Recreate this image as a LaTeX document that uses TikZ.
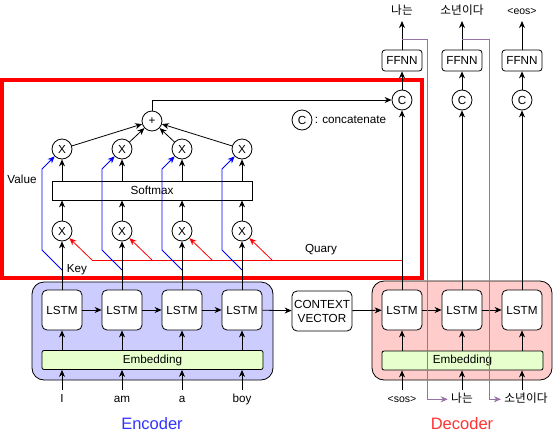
\documentclass[tikz,border=0pt]{standalone}
\usepackage{fontspec}
\setmainfont{Liberation Sans}
\newfontfamily\krfont{Noto Sans CJK KR}
\usetikzlibrary{calc,positioning,arrows.meta}
\definecolor{encfill}{HTML}{CCCCFF}
\definecolor{decfill}{HTML}{FFCCCC}
\definecolor{embfill}{HTML}{E6FFCC}
\definecolor{encblue}{HTML}{3333FF}
\definecolor{decred}{HTML}{FF3333}
\definecolor{purp}{HTML}{9673A6}

\begin{document}
\begin{tikzpicture}[x=1pt,y=-1pt,line width=0.8pt,
  font=\fontsize{11.7}{13}\selectfont,
  >={Stealth[length=7pt,width=6pt]},
  cell/.style={draw,fill=white,rounded corners=5pt,minimum width=40pt,minimum height=40pt,inner sep=0pt},
  embed/.style={draw,fill=embfill,rounded corners=2pt,minimum height=19pt,inner sep=0pt},
  op/.style={draw,fill=white,circle,minimum size=20pt,inner sep=0pt},
  ffnn/.style={draw,fill=white,rounded corners=3pt,minimum width=40pt,minimum height=21pt,inner sep=0pt},
  word/.style={anchor=base,text height=9pt,text depth=2.5pt,inner sep=1pt,outer sep=2.5pt},
  outw/.style={anchor=base,text height=9pt,text depth=1.5pt,inner sep=1pt,outer sep=4pt},
  small/.style={font=\fontsize{10.5}{11}\selectfont},
  kr/.style={font=\fontsize{11.7}{13}\krfont}]
  \useasboundingbox (0,0) rectangle (553,442);
  % attention frame
  \draw[red,line width=4pt] (2,80) rectangle (422,278);

  % encoder
  \draw[fill=encfill,rounded corners=12pt] (32,282) rectangle (273,380);
  \node[embed,minimum width=221pt] (eemb) at (152.5,360) {Embedding};
  \foreach \i/\x/\w in {1/62/I,2/122/am,3/182/a,4/242/boy}{
    \node[cell] (e\i) at (\x,310) {LSTM};
    \node[word] (w\i) at (\x,402.5) {\w};
    \draw[->] (w\i) -- (w\i |- eemb.south);
    \draw[->] (e\i |- eemb.north) -- (e\i.south);
  }
  \node[encblue,font=\fontsize{16.5}{18}\selectfont] (enc) at (152,424) {Encoder};
  \node[cell,minimum width=60pt,align=center,font=\fontsize{11.7}{14}\selectfont] (cv) at (322,311) {CONTEXT\\VECTOR};

  % decoder
  \draw[fill=decfill,rounded corners=12pt] (372,281) rectangle (552,380);
  \node[embed,minimum width=161pt] (demb) at (462.5,360.5) {Embedding};
  \node[word,small] (di1) at (402,402.5) {<sos>};
  \node[word,kr] (di2) at (462,402.5) {나는};
  \node[word,kr] (di3) at (526,402.5) {소년이다};
  \node[outw,kr] (o1) at (402,14.5) {나는};
  \node[outw,kr] (o2) at (462,14.5) {소년이다};
  \node[outw,small] (o3) at (522,14.5) {<eos>};
  \foreach \i/\x in {1/402,2/462,3/522}{
    \node[cell] (d\i) at (\x,310) {LSTM};
    \node[op] (c\i) at (\x,100) {C};
    \node[ffnn] (f\i) at (\x,60.5) {FFNN};
    \draw[->] (d\i |- demb.north) -- (d\i.south);
    \draw[->] (d\i) -- (c\i);
    \draw[->] (c\i) -- (f\i);
    \draw[->] (f\i) -- (o\i);
  }
  \draw[->] (di1) -- (di1 |- demb.south);
  \draw[->] (di2) -- (di2 |- demb.south);
  \draw[->] (d3 |- di3.north) -- (d3 |- demb.south);
  \node[decred,font=\fontsize{16.5}{18}\selectfont] (dec) at (462,424) {Decoder};

  \draw[->] (e1) -- (e2);
  \draw[->] (e2) -- (e3);
  \draw[->] (e3) -- (e4);
  \draw[->] (e4) -- (cv);
  \draw[->] (cv) -- (d1);
  \draw[->] (d1) -- (d2);
  \draw[->] (d2) -- (d3);

  % attention
  \node[draw,fill=white,minimum width=200pt,minimum height=19pt,inner sep=0pt] (sm) at (152,190.5) {Softmax};
  \node[op] (plus) at (152,121) {+};
  \draw[red] (92,260) -- (d1 |- 0,260);
  \foreach \i/\x in {1/62,2/122,3/182,4/242}{
    \node[op] (lx\i) at (\x,231) {X};
    \node[op] (ux\i) at (\x,149) {X};
    \draw[->] (e\i) -- (lx\i);
    \draw[->] (lx\i) -- (lx\i |- sm.south);
    \draw[->] (ux\i |- sm.north) -- (ux\i);
    \draw[->] (ux\i) -- (plus);
    \draw[blue,->] (\x,270) -- ++(-20,-20) -- ++(0,-81) -- (ux\i);
    \draw[red,->] (\x+30,260) -- (lx\i);
  }
  \draw[->] (plus) |- (c1);
  \node[op] (lc) at (302,120) {C};
  \node[anchor=west,inner sep=2pt] (lct) at (lc.east) {: concatenate};
  \node (val) at (22,179) {Value};
  \node (key) at (77,270) {Key};
  \node (qry) at (321,250) {Quary};

  % feedback of outputs
  \draw[purp,line width=0.6pt,->] ($(f1.north)+(0,-10)$) -| ($(di2.west)+(-20,0)$) -- (di2.west);
  \draw[purp,line width=0.6pt,->] ($(f2.north)+(0,-10)$) -| ($(di3.west)+(-12,0)$) -- (di3.west);
\end{tikzpicture}
\end{document}
